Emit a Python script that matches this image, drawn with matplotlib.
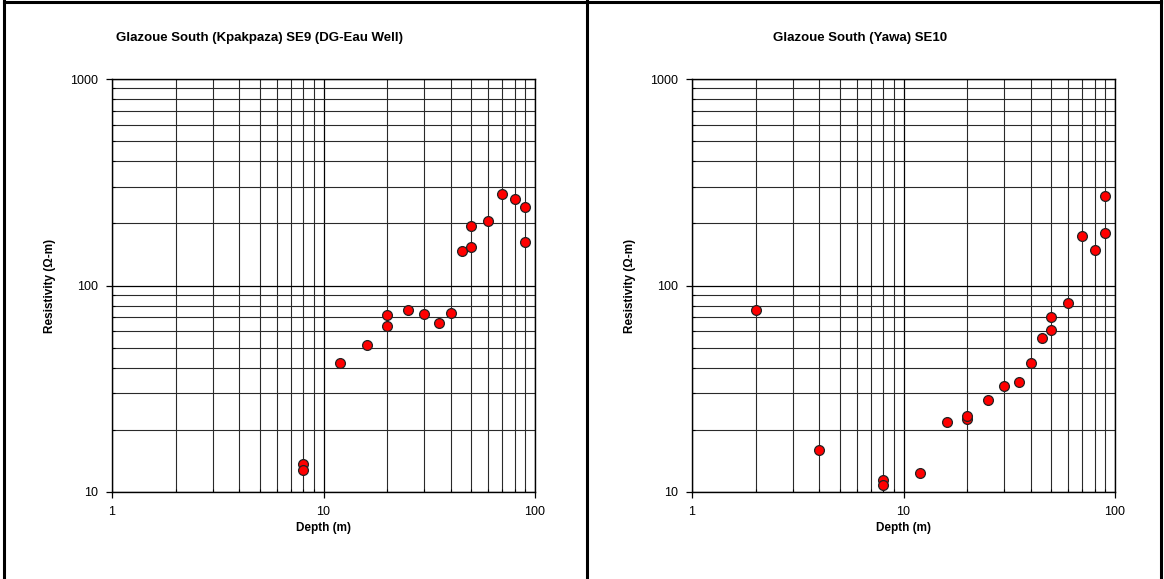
import matplotlib
matplotlib.use("Agg")
import matplotlib.pyplot as plt
from matplotlib.patches import Rectangle
from matplotlib.ticker import LogLocator, FixedLocator, FixedFormatter, NullFormatter
import numpy as np

plt.rcParams['font.family'] = ['Liberation Sans', 'DejaVu Sans']

# SE9 (Kpakpaza, DG-Eau Well)
se9_depth = [8, 8, 12, 16, 20, 20, 25, 30, 35, 40, 45, 50, 50, 60, 70, 80, 90, 90]
se9_res = [13.6, 12.8, 42, 51.5, 72, 64, 76, 72.5, 65.5, 73.5, 147, 154, 194, 205, 276, 263, 240, 162]

# SE10 (Yawa)
se10_depth = [2, 4, 8, 8, 12, 16, 20, 20, 25, 30, 35, 40, 45, 50, 50, 60, 70, 80, 90, 90]
se10_res = [76.5, 15.9, 11.4, 10.8, 12.3, 21.8, 22.5, 23.3, 27.9, 32.6, 34.1, 42, 55.5, 60.7, 70.6, 82, 174, 149, 179, 272]

titles = ["Glazoue South (Kpakpaza) SE9 (DG-Eau Well)", "Glazoue South (Yawa) SE10"]
xlab = "Depth (m)"
ylab = "Resistivity (\u03a9-m)"

W, H = 1164, 579
fig = plt.figure(figsize=(W / 100, H / 100), dpi=100)

# frame lines (left, top, right) and the divider between the two charts
for xy in [([4, 4], [0, H - 1]), ([4, W - 3], [H - 1.5, H - 1.5]), ([W - 3, W - 3], [0, H - 1]), ([587, 587], [0, H])]:
    fig.add_artist(plt.Line2D(np.array(xy[0]) / W, np.array(xy[1]) / H, transform=fig.transFigure,
                              color='black', linewidth=2.2))

panels = [
    (112, titles[0], se9_depth, se9_res, 260),
    (692, titles[1], se10_depth, se10_res, 860),
]

for left, title, xs, ys, tx in panels:
    ax = fig.add_axes([left / W, (H - 492) / H, 423 / W, 413 / H])
    ax.set_xscale('log')
    ax.set_yscale('log')
    ax.set_xlim(1, 100)
    ax.set_ylim(10, 1000)

    ax.xaxis.set_major_locator(FixedLocator([1, 10, 100]))
    ax.xaxis.set_major_formatter(FixedFormatter(['1', '10', '100']))
    ax.yaxis.set_major_locator(FixedLocator([10, 100, 1000]))
    ax.yaxis.set_major_formatter(FixedFormatter(['10', '100', '1000']))
    ax.xaxis.set_minor_locator(LogLocator(base=10, subs=np.arange(2, 10)))
    ax.yaxis.set_minor_locator(LogLocator(base=10, subs=np.arange(2, 10)))
    ax.xaxis.set_minor_formatter(NullFormatter())
    ax.yaxis.set_minor_formatter(NullFormatter())

    ax.grid(True, which='major', color='black', linewidth=0.9)
    ax.grid(True, which='minor', color='#2a2a2a', linewidth=0.8)
    ax.set_axisbelow(True)
    for s in ax.spines.values():
        s.set_color('black')
        s.set_linewidth(1.0)

    ax.tick_params(which='major', direction='out', length=4, width=0.9, labelsize=9, pad=6)
    ax.tick_params(which='minor', direction='in', length=2, width=0.8)

    ax.scatter(xs, ys, s=50, color='#ff0000', edgecolor='#222222', linewidth=0.9, zorder=3, clip_on=False)

    ax.set_xlabel(xlab, fontsize=8.5, fontweight='bold', labelpad=3)
    ax.set_ylabel(ylab, fontsize=8.5, fontweight='bold', labelpad=10)
    fig.text(tx / W, 1 - 38 / H, title, fontsize=9.5, fontweight='bold', ha='center', va='center')

fig.savefig("out.png", dpi=100)
